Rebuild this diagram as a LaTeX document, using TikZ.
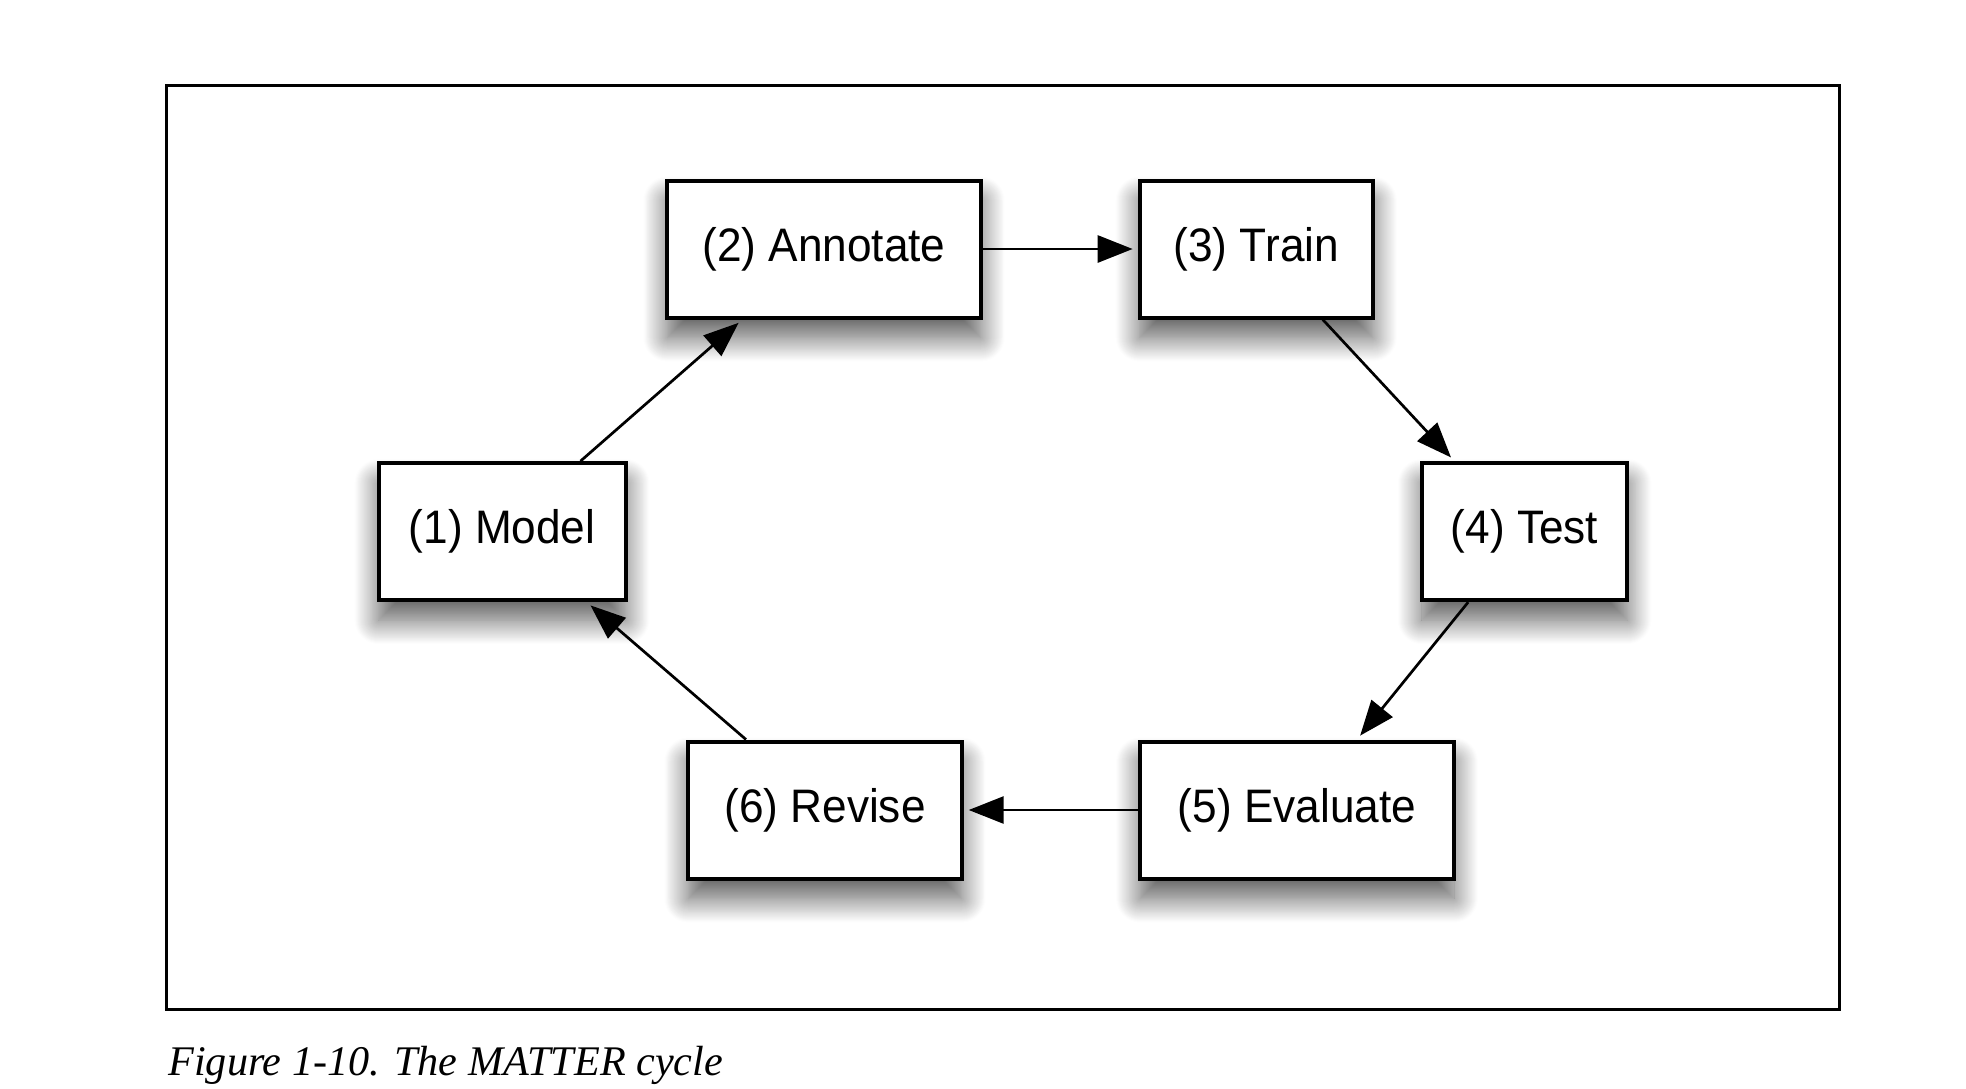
\documentclass[tikz,border=0pt]{standalone}
\usepackage{fontspec}
\setmainfont{Liberation Serif}
\newfontfamily\boxfont[FakeStretch=0.94]{Liberation Sans}
\usetikzlibrary{arrows.meta,shadows.blur,calc}
\begin{document}
\begin{tikzpicture}[x=0.5pt,y=-0.5pt,
  stage/.style={draw=black,line width=2pt,fill=white,minimum height=68.5pt,
    inner sep=0pt,font=\boxfont\fontsize{23.5}{27}\selectfont,
    blur shadow={shadow xshift=0pt,shadow yshift=-10pt,shadow blur radius=12pt,
      shadow blur steps=25,shadow opacity=65}},
  flow/.style={line width=1.35pt,-{Triangle[length=17.5pt,width=13.5pt]},shorten >=2.5pt}]
\useasboundingbox (0,0) rectangle (1966,1088);
\node[draw=black,line width=1.4pt,minimum width=836.3pt,minimum height=462pt,inner sep=0pt] (frame) at (1003,547.3) {};
\node[stage,minimum width=123.5pt] (m1) at (502.1,531.6) {(1) Model};
\node[stage,minimum width=156.7pt] (m2) at (824,249) {(2) Annotate};
\node[stage,minimum width=116.6pt] (m3) at (1256.3,249) {(3) Train};
\node[stage,minimum width=102.8pt] (m4) at (1524.6,531.6) {(4) Test};
\node[stage,minimum width=157pt] (m5) at (1297,810) {(5) Evaluate};
\node[stage,minimum width=136.7pt] (m6) at (825,810) {(6) Revise};
\node[anchor=base west,inner sep=0pt,font=\itshape\fontsize{21.1}{25}\selectfont] (cap) at (168,1075) {Figure 1-10. The MATTER cycle};
\draw[flow] ([xshift=39.2pt]m1.north) -- ([xshift=-40.8pt]m2.south);
\draw[flow] (m2.east) -- (m3.west);
\draw[flow] ([xshift=33.2pt]m3.south) -- ([xshift=-35.1pt]m4.north);
\draw[flow] ([xshift=-28.2pt]m4.south) -- ([xshift=30pt]m5.north);
\draw[flow] (m5.west) -- (m6.east);
\draw[flow] ([xshift=-39.5pt]m6.north) -- ([xshift=42.3pt]m1.south);
\end{tikzpicture}
\end{document}
